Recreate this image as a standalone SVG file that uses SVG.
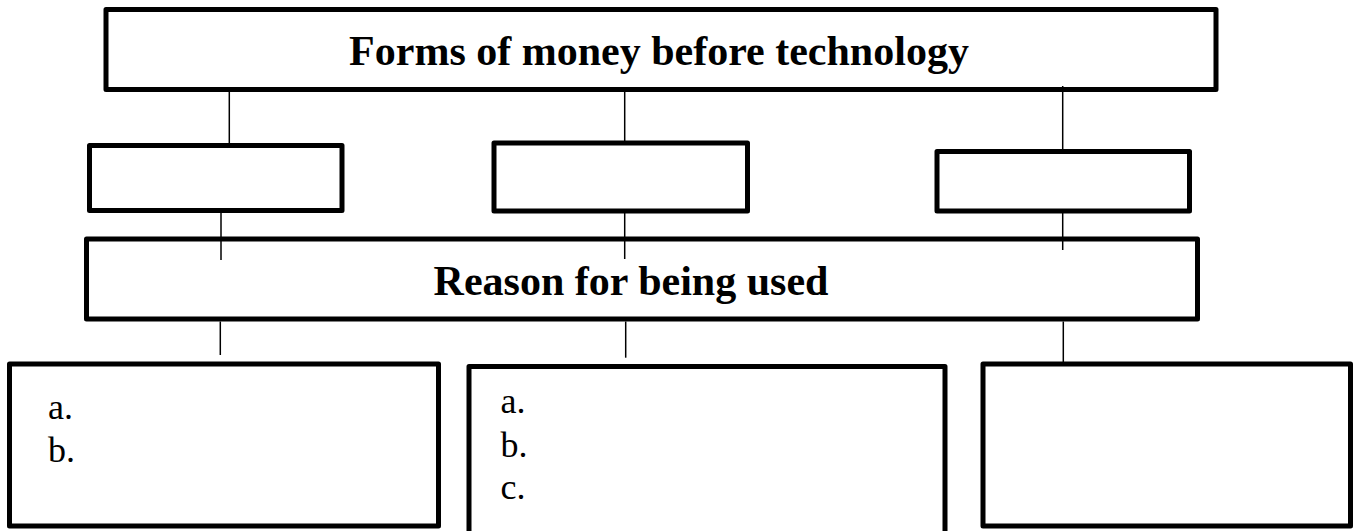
<svg xmlns="http://www.w3.org/2000/svg" width="1358" height="531" viewBox="0 0 1358 531">
<style>
.box{fill:#fff;stroke:#000;stroke-width:5;stroke-linejoin:round}
.ln{stroke:#000;stroke-width:1.5;fill:none}
.title{font-family:"Liberation Serif","Times New Roman",serif;font-weight:bold;font-size:42px;fill:#000;text-anchor:middle}
.item{font-family:"Liberation Serif","Times New Roman",serif;font-size:36px;fill:#000}
</style>
<rect x="0" y="0" width="1358" height="531" fill="#fff"/>
<g id="node-top">
<rect class="box" x="106" y="9.5" width="1110" height="80"/>
<text class="title" x="659" y="65">Forms of money before technology</text>
</g>
<g id="node-form1"><rect class="box" x="89.5" y="145.5" width="252.5" height="65"/></g>
<g id="node-form2"><rect class="box" x="494" y="143" width="253.5" height="68"/></g>
<g id="node-form3"><rect class="box" x="937" y="151.5" width="252.5" height="59.5"/></g>
<g id="node-reason">
<rect class="box" x="86.5" y="239" width="1111" height="80"/>
<text class="title" x="631" y="295">Reason for being used</text>
</g>
<g id="node-list1">
<rect class="box" x="9.5" y="364" width="429" height="162"/>
<text class="item" x="48" y="419">a.</text>
<text class="item" x="48" y="461.7">b.</text>
</g>
<g id="node-list2">
<rect class="box" x="469" y="366.5" width="476" height="180"/>
<text class="item" x="500.5" y="413.3">a.</text>
<text class="item" x="500.5" y="456.7">b.</text>
<text class="item" x="500.5" y="499.3">c.</text>
</g>
<g id="node-list3"><rect class="box" x="983" y="364" width="367.5" height="162"/></g>
<g id="connectors">
<line class="ln" x1="229.3" y1="92" x2="229.3" y2="143"/>
<line class="ln" x1="624.7" y1="92" x2="624.7" y2="141"/>
<line class="ln" x1="1062.7" y1="86" x2="1062.7" y2="149"/>
<line class="ln" x1="221" y1="213" x2="221" y2="260"/>
<line class="ln" x1="624.7" y1="213" x2="624.7" y2="259"/>
<line class="ln" x1="1062.7" y1="213" x2="1062.7" y2="250"/>
<line class="ln" x1="220.3" y1="321.5" x2="220.3" y2="355"/>
<line class="ln" x1="625.7" y1="321.5" x2="625.7" y2="357.7"/>
<line class="ln" x1="1063.3" y1="321.5" x2="1063.3" y2="362"/>
</g>
</svg>
